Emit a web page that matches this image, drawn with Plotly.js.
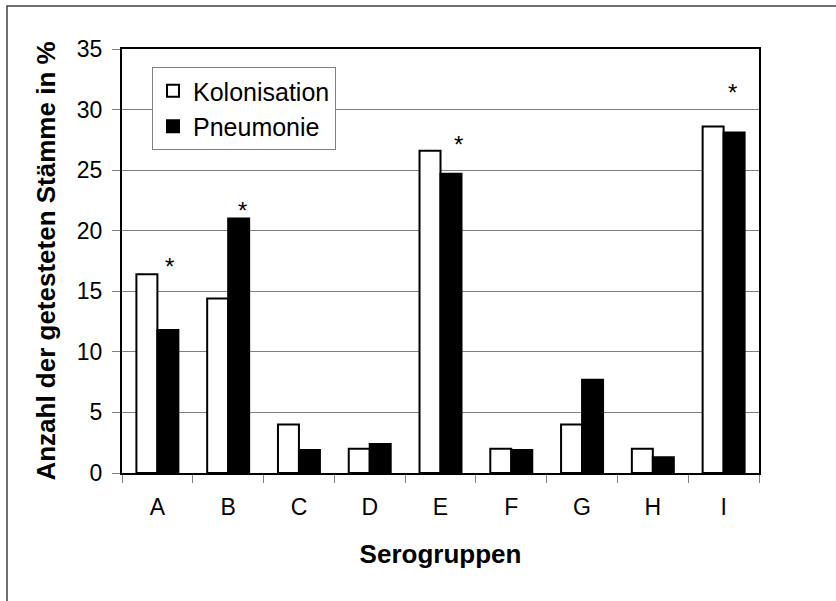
<!DOCTYPE html>
<html>
<head>
<meta charset="utf-8">
<script src="https://cdn.plot.ly/plotly-3.0.1.min.js"></script>
<style>html,body{margin:0;padding:0;background:#fff;}#chart{width:836px;height:601px;}</style>
</head>
<body>
<div id="chart"></div>
<script>
// Data
const categories = ['A','B','C','D','E','F','G','H','I'];
const kolonisation = [16.4, 14.4, 4.0, 2.0, 26.6, 2.0, 4.0, 2.0, 28.6];
const pneumonie = [11.8, 21.0, 1.9, 2.4, 24.7, 1.9, 7.7, 1.3, 28.1];
const sigGroups = ['A','B','E','I'];
const sigLevels = [17.7, 22.3, 27.8, 32.1];

const FONT = 'Liberation Sans, Arial, sans-serif';
const sigXShift = [12, 14, 18, 9];

const traces = [
  {type:'bar', name:'Kolonisation', x:categories, y:kolonisation,
   marker:{color:'#ffffff', line:{color:'#000000', width:2}}},
  {type:'bar', name:'Pneumonie', x:categories, y:pneumonie,
   marker:{color:'#000000', line:{color:'#000000', width:2}}}
];

const annotations = sigGroups.map((g,i)=>({
  x:g, y:sigLevels[i], xref:'x', yref:'y', text:'*', showarrow:false,
  xshift:sigXShift[i], yshift:-8, yanchor:'middle',
  font:{family:FONT, size:24, color:'#000'}
}));

const L = 122, R = 77, T = 49, B = 128;
const pw = 836 - L - R, ph = 601 - T - B;

const layout = {
  width:836, height:601,
  margin:{l:L, r:R, t:T, b:B, pad:0},
  paper_bgcolor:'#ffffff', plot_bgcolor:'#ffffff',
  font:{family:FONT, color:'#000', size:23},
  barmode:'group', bargap:0.407, bargroupgap:0,
  showlegend:true,
  legend:{x:(152-L)/pw, y:(473-67)/ph, xanchor:'left', yanchor:'top',
    bordercolor:'#808080', borderwidth:1, bgcolor:'#ffffff',
    font:{family:FONT, size:25, color:'#000'}, traceorder:'normal', itemwidth:30},
  xaxis:{type:'category', showline:true, linecolor:'#000', linewidth:2, mirror:true,
    ticks:'outside', tickson:'boundaries', ticklen:8, tickcolor:'#808080', tickwidth:1,
    ticklabelstandoff:12,
    tickfont:{family:FONT, size:23, color:'#000'}, showgrid:false, automargin:false,
    title:{text:'Serogruppen', font:{family:FONT, size:26, color:'#000', weight:'bold'}, standoff:26}},
  yaxis:{range:[0,35], dtick:5, showline:true, linecolor:'#000', linewidth:2, mirror:true,
    ticks:'outside', ticklen:8, tickcolor:'#808080', tickwidth:1, ticklabelstandoff:5,
    showgrid:true, gridcolor:'#808080', gridwidth:1, zeroline:false, automargin:false,
    tickfont:{family:FONT, size:23, color:'#000'},
    title:{text:'Anzahl der getesteten Stämme in %', font:{family:FONT, size:26, color:'#000', weight:'bold'}, standoff:14}},
  annotations:annotations,
  shapes:[{type:'rect', xref:'paper', yref:'paper',
    x0:(7-L)/pw, x1:(845-L)/pw, y0:(473-620)/ph, y1:(473-6)/ph,
    line:{color:'#404040', width:1.5}, fillcolor:'rgba(0,0,0,0)', layer:'below'}]
};

Plotly.newPlot('chart', traces, layout, {displayModeBar:false, staticPlot:true});
</script>
</body>
</html>
